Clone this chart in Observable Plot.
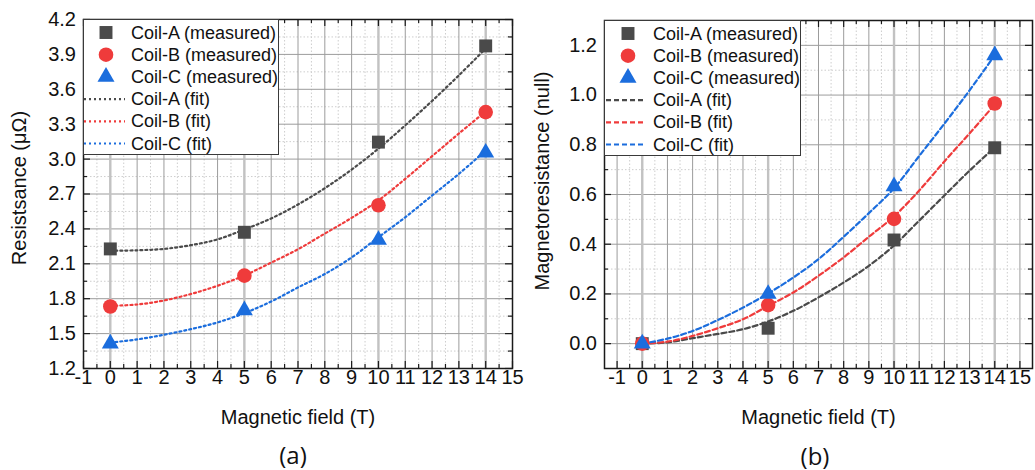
<!DOCTYPE html>
<html><head><meta charset="utf-8">
<script src="https://cdn.jsdelivr.net/npm/d3@7"></script>
<script src="https://cdn.jsdelivr.net/npm/@observablehq/plot@0.6"></script>
<style>
html,body{margin:0;padding:0;background:#fff;}
body{width:1035px;height:470px;overflow:hidden;position:relative;font-family:"Liberation Sans",Arial,sans-serif;color:#000;}
.panel{position:absolute;top:0;}
.legend{position:absolute;background:#fff;border:1px solid #3a3a3a;box-sizing:border-box;}
.legend span{position:absolute;white-space:nowrap;font-size:18px;line-height:22px;color:#111;}
.cap{position:absolute;font-family:"Open Sans",sans-serif;font-size:24px;line-height:30px;transform:translate(-50%,-50%);white-space:nowrap;color:#111;}
.ytitle{position:absolute;font-size:20px;line-height:24px;white-space:nowrap;color:#111;transform:translate(-50%,-50%) rotate(-90deg);}
</style></head>
<body>
<div id="pa" class="panel" style="left:0px"></div>
<div id="pb" class="panel" style="left:525px"></div>
<div class="ytitle" style="left:19px;top:188px">Resistsance (μΩ)</div>
<div class="ytitle" style="left:542px;top:181px">Magnetoresistance (null)</div>
<div class="cap" style="left:293px;top:455px">(a)</div>
<div class="cap" style="left:815px;top:456px">(b)</div>
<script>
// ---------- data ----------
const field = [0, 5, 10, 14];
const fitField = [0, 1, 2, 3, 4, 5, 6, 7, 8, 9, 10, 11, 12, 13, 14];
const seriesNames = ["Coil-A", "Coil-B", "Coil-C"];
const colors = ["#4a4a4a", "#ef3b3b", "#1b6ddd"];

// panel (a): resistance (μΩ)
const resA = [2.228, 2.371, 3.146, 3.973];
const resB = [1.733, 1.998, 2.603, 3.404];
const resC = [1.414, 1.700, 2.305, 3.055];
const resFitA = [2.212, 2.216, 2.228, 2.26, 2.31, 2.395, 2.49, 2.61, 2.75, 2.91, 3.09, 3.29, 3.50, 3.72, 3.95];
const resFitB = [1.739, 1.75, 1.785, 1.84, 1.911, 2.0, 2.11, 2.225, 2.36, 2.495, 2.645, 2.83, 3.025, 3.22, 3.41];
const resFitC = [1.423, 1.45, 1.49, 1.538, 1.596, 1.676, 1.776, 1.897, 2.012, 2.155, 2.328, 2.50, 2.687, 2.873, 3.074];

// panel (b): magnetoresistance
const mrA = [0, 0.062, 0.417, 0.788];
const mrB = [0, 0.155, 0.502, 0.966];
const mrC = [0, 0.200, 0.633, 1.160];
const mrFitA = [0, 0.005, 0.022, 0.039, 0.058, 0.089, 0.132, 0.186, 0.246, 0.313, 0.395, 0.495, 0.596, 0.696, 0.79];
const mrFitB = [0, 0.008, 0.031, 0.062, 0.098, 0.152, 0.206, 0.273, 0.347, 0.43, 0.512, 0.616, 0.733, 0.846, 0.962];
const mrFitC = [0, 0.02, 0.051, 0.095, 0.145, 0.202, 0.266, 0.34, 0.43, 0.525, 0.625, 0.755, 0.885, 1.019, 1.16];

// ticks
const xTicksA = [-1, 0, 1, 2, 3, 4, 5, 6, 7, 8, 9, 10, 11, 12, 13, 14, 15];
const xMinorA = [-0.5, 0.5, 1.5, 2.5, 3.5, 4.5, 5.5, 6.5, 7.5, 8.5, 9.5, 10.5, 11.5, 12.5, 13.5, 14.5];
const yTicksA = [1.2, 1.5, 1.8, 2.1, 2.4, 2.7, 3.0, 3.3, 3.6, 3.9, 4.2];
const yMinorA = [1.35, 1.65, 1.95, 2.25, 2.55, 2.85, 3.15, 3.45, 3.75, 4.05];
const xTicksB = [-1, 0, 1, 2, 3, 4, 5, 6, 7, 8, 9, 10, 11, 12, 13, 14, 15];
const xMinorB = [-0.5, 0.5, 1.5, 2.5, 3.5, 4.5, 5.5, 6.5, 7.5, 8.5, 9.5, 10.5, 11.5, 12.5, 13.5, 14.5];
const yTicksB = [0.0, 0.2, 0.4, 0.6, 0.8, 1.0, 1.2];
const yMinorB = [0.1, 0.3, 0.5, 0.7, 0.9, 1.1];

const legendLabels = ["Coil-A (measured)", "Coil-B (measured)", "Coil-C (measured)", "Coil-A (fit)", "Coil-B (fit)", "Coil-C (fit)"];

// ---------- drawing ----------
const symbols = [
  {symbol: "square", r: 7.3, d3s: d3.symbolSquare},
  {symbol: "circle", r: 7.3, d3s: d3.symbolCircle},
  {symbol: "triangle", r: 6.3, d3s: d3.symbolTriangle}
];

function panel(o) {
  const H = o.height - o.mT - o.mB;
  const W = o.width - o.mL - o.mR;
  const tk = "#1a1a1a";
  const marks = [
    Plot.ruleX(o.xMinor, {x: d => d, stroke: "#cdcdcd", strokeDasharray: "1.5,2"}),
    Plot.ruleY(o.yMinor, {y: d => d, stroke: "#cdcdcd", strokeDasharray: "1.5,2"}),
    Plot.ruleX(o.xMajor, {x: d => d, stroke: "#9c9c9c"}),
    Plot.ruleY(o.yMajor, {y: d => d, stroke: "#9c9c9c"}),
    Plot.ruleX(field, {x: d => d, stroke: "#c2c2c2", strokeWidth: 2.4}),
    // inward ticks on all four sides
    Plot.ruleX(o.xMajor, {x: d => d, stroke: tk, strokeWidth: 1.2, insetTop: H - 7}),
    Plot.ruleX(o.xMajor, {x: d => d, stroke: tk, strokeWidth: 1.2, insetBottom: H - 7}),
    Plot.ruleX(o.xMinor, {x: d => d, stroke: tk, strokeWidth: 1.2, insetTop: H - 4}),
    Plot.ruleX(o.xMinor, {x: d => d, stroke: tk, strokeWidth: 1.2, insetBottom: H - 4}),
    Plot.ruleY(o.yMajor, {y: d => d, stroke: tk, strokeWidth: 1.2, insetRight: W - 7}),
    Plot.ruleY(o.yMajor, {y: d => d, stroke: tk, strokeWidth: 1.2, insetLeft: W - 7}),
    Plot.ruleY(o.yMinor, {y: d => d, stroke: tk, strokeWidth: 1.2, insetRight: W - 4}),
    Plot.ruleY(o.yMinor, {y: d => d, stroke: tk, strokeWidth: 1.2, insetLeft: W - 4})
  ];
  o.fits.forEach((f, i) => {
    marks.push(Plot.line(fitField.map((x, j) => ({x, y: f[j]})), {
      x: "x", y: "y", stroke: colors[i], strokeWidth: o.lw, strokeDasharray: o.dash, curve: "catmull-rom"
    }));
  });
  o.meas.forEach((m, i) => {
    marks.push(Plot.dot(field.map((x, j) => ({x, y: m[j]})), {
      x: "x", y: "y", symbol: symbols[i].symbol, r: symbols[i].r, fill: colors[i], stroke: "none"
    }));
  });
  marks.push(
    Plot.frame({stroke: "#1a1a1a", strokeWidth: 1.5}),
    // tick labels (bottom / left)
    Plot.text(o.xMajor, {x: d => d, text: d => String(d), frameAnchor: "bottom", dy: 15.5, fontSize: 20, fill: "#111"}),
    Plot.text(o.yMajor, {y: d => d, text: d => d.toFixed(1), frameAnchor: "left", dx: -7.5, textAnchor: "end", fontSize: 20, fill: "#111"}),
    Plot.text([o.xLabel], {text: d => d, frameAnchor: "bottom", dy: 55, fontSize: 20, fill: "#111"})
  );
  return Plot.plot({
    width: o.width, height: o.height,
    marginLeft: o.mL, marginRight: o.mR, marginTop: o.mT, marginBottom: o.mB,
    x: {domain: o.xDomain, label: null, axis: null},
    y: {domain: o.yDomain, label: null, axis: null},
    style: {fontFamily: "Liberation Sans, Arial, sans-serif", fontSize: "20px", color: "#000", background: "transparent", overflow: "visible"},
    marks
  });
}

function legend(left, top, w, h, symCx, lx1, lx2, textX, dash, lw) {
  const box = document.createElement("div");
  box.className = "legend";
  Object.assign(box.style, {left: left + "px", top: top + "px", width: w + "px", height: h + "px"});
  const ns = "http://www.w3.org/2000/svg";
  const svg = document.createElementNS(ns, "svg");
  svg.setAttribute("width", w); svg.setAttribute("height", h);
  Object.assign(svg.style, {position: "absolute", left: "-1px", top: "-1px"});
  box.appendChild(svg);
  legendLabels.forEach((lab, i) => {
    const cy = 13.5 + 22.2 * i;
    const k = i % 3;
    if (i < 3) {
      const p = document.createElementNS(ns, "path");
      p.setAttribute("d", d3.symbol(symbols[k].d3s, Math.PI * symbols[k].r * symbols[k].r)());
      p.setAttribute("transform", `translate(${symCx},${cy})`);
      p.setAttribute("fill", colors[k]);
      svg.appendChild(p);
    } else {
      const l = document.createElementNS(ns, "line");
      l.setAttribute("x1", lx1); l.setAttribute("x2", lx2);
      l.setAttribute("y1", cy); l.setAttribute("y2", cy);
      l.setAttribute("stroke", colors[k]); l.setAttribute("stroke-width", lw);
      l.setAttribute("stroke-dasharray", dash);
      svg.appendChild(l);
    }
    const s = document.createElement("span");
    s.textContent = lab;
    s.style.left = (textX - 1) + "px";
    s.style.top = (cy - 11 - 1) + "px";
    box.appendChild(s);
  });
  document.body.appendChild(box);
}

document.getElementById("pa").appendChild(panel({
  width: 525, height: 430, mL: 83, mR: 13, mT: 19, mB: 62,
  xDomain: [-1, 15], yDomain: [1.2, 4.2],
  xMajor: xTicksA, xMinor: xMinorA, yMajor: yTicksA, yMinor: yMinorA,
  fits: [resFitA, resFitB, resFitC], meas: [resA, resB, resC],
  dash: "2,3", lw: 2.2, xLabel: "Magnetic field (T)"
}));
document.getElementById("pb").appendChild(panel({
  width: 510, height: 430, mL: 79, mR: 3, mT: 20, mB: 62,
  xDomain: [-1.5, 15.5], yDomain: [-0.1, 1.3],
  xMajor: xTicksB, xMinor: xMinorB, yMajor: yTicksB, yMinor: yMinorB,
  fits: [mrFitA, mrFitB, mrFitC], meas: [mrA, mrB, mrC],
  dash: "5,3", lw: 2.2, xLabel: "Magnetic field (T)"
}));
legend(83, 19, 196, 136, 23, 1, 42, 48, "2,3", 2.2);
legend(604, 20, 197, 136, 24, 2, 39, 49, "5,3", 2.2);
</script>
</body></html>
